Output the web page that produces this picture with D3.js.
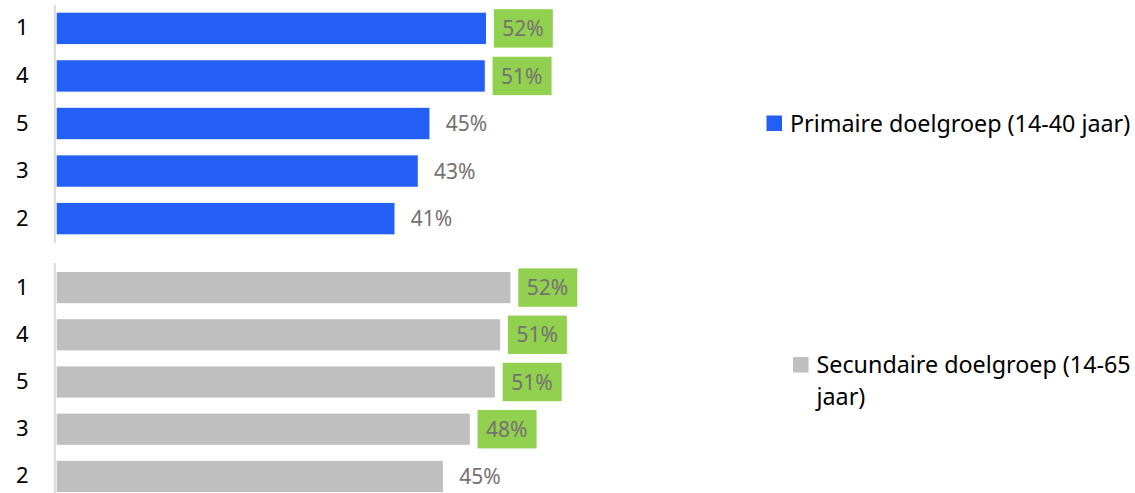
<!DOCTYPE html>
<html>
<head>
<meta charset="utf-8">
<script src="https://cdn.jsdelivr.net/npm/d3@7"></script>
<style>
  html, body { margin: 0; padding: 0; background: #ffffff; }
  svg { display: block; }
  text { font-family: "Noto Sans", "Open Sans", sans-serif; }
</style>
</head>
<body>
<svg id="chart" width="1135" height="493"></svg>
<script>
// Categories in display order (top to bottom), shared by both groups
const categories = ["1", "4", "5", "3", "2"];

// Share per category (%), primary target group (14-40 years)
const primaryValues = [51.6, 51.45, 44.8, 43.4, 40.6];
// Share per category (%), secondary target group (14-65 years)
const secondaryValues = [52.4, 51.2, 50.6, 47.7, 44.6];

// Legend labels (the second one wraps onto two lines)
const primaryLegend = ["Primaire doelgroep (14-40 jaar)"];
const secondaryLegend = ["Secundaire doelgroep (14-65", "jaar)"];

// Labels at or above this value are shown on a green tag
const highlightFrom = 48;

const svg = d3.select("#chart");
const fmt = v => d3.format(".0f")(v) + "%";

const panels = [
  { values: primaryValues, color: "#235ef5", y0: 12.7, y1: 234.3, line: [5, 243], xMax: 555.9,
    legend: { x: 766.5, y: 115.5, lines: primaryLegend } },
  { values: secondaryValues, color: "#bfbfbf", y0: 272, y1: 492, line: [263, 493], xMax: 576.3,
    legend: { x: 793, y: 357, lines: secondaryLegend } }
];

const x0 = 56.7;

panels.forEach(p => {
  const y = d3.scaleBand().domain(categories).range([p.y0, p.y1])
    .paddingInner(0.34).paddingOuter(0);
  const x = d3.scaleLinear().domain([0, 60]).range([x0, p.xMax]);
  const g = svg.append("g");

  // vertical baseline
  g.append("line")
    .attr("x1", 54.8).attr("x2", 54.8)
    .attr("y1", p.line[0]).attr("y2", p.line[1])
    .attr("stroke", "#d9d9d9").attr("stroke-width", 2);

  // category axis
  g.append("g")
    .attr("transform", `translate(${x0},0)`)
    .call(d3.axisLeft(y).tickSize(0).tickPadding(28))
    .call(a => a.select(".domain").remove())
    .call(a => a.selectAll("text")
      .attr("fill", "#000000")
      .style("font-size", "22px")
      .style("font-family", "'Noto Sans', 'Open Sans', sans-serif"));

  const rows = categories.map((c, j) => ({ cat: c, value: p.values[j] }));

  // bars
  g.selectAll("rect.bar").data(rows).enter().append("rect")
    .attr("class", "bar")
    .attr("x", x(0))
    .attr("y", d => y(d.cat))
    .attr("width", d => x(d.value) - x(0))
    .attr("height", y.bandwidth())
    .attr("fill", p.color);

  // green tags behind highlighted labels
  g.selectAll("rect.tag").data(rows.filter(d => Math.round(d.value) >= highlightFrom)).enter()
    .append("rect")
    .attr("class", "tag")
    .attr("x", d => x(d.value) + 7.8)
    .attr("y", d => y(d.cat) + y.bandwidth() / 2 - 19.2)
    .attr("width", 59)
    .attr("height", 38.4)
    .attr("fill", "#92d050");

  // value labels
  g.selectAll("text.val").data(rows).enter().append("text")
    .attr("class", "val")
    .attr("x", d => x(d.value) + 16.3)
    .attr("y", d => y(d.cat) + y.bandwidth() / 2)
    .attr("dy", "0.36em")
    .attr("fill", "#767171")
    .style("font-size", "21px")
    .text(d => fmt(d.value));

  // legend entry
  const lg = svg.append("g").attr("transform", `translate(${p.legend.x},${p.legend.y})`);
  lg.append("rect").attr("width", 15.5).attr("height", 15.5).attr("fill", p.color);
  p.legend.lines.forEach((t, k) => {
    lg.append("text")
      .attr("x", 23.5)
      .attr("y", 16 + k * 32)
      .attr("fill", "#000000")
      .style("font-size", "23.3px")
      .text(t);
  });
});
</script>
</body>
</html>
